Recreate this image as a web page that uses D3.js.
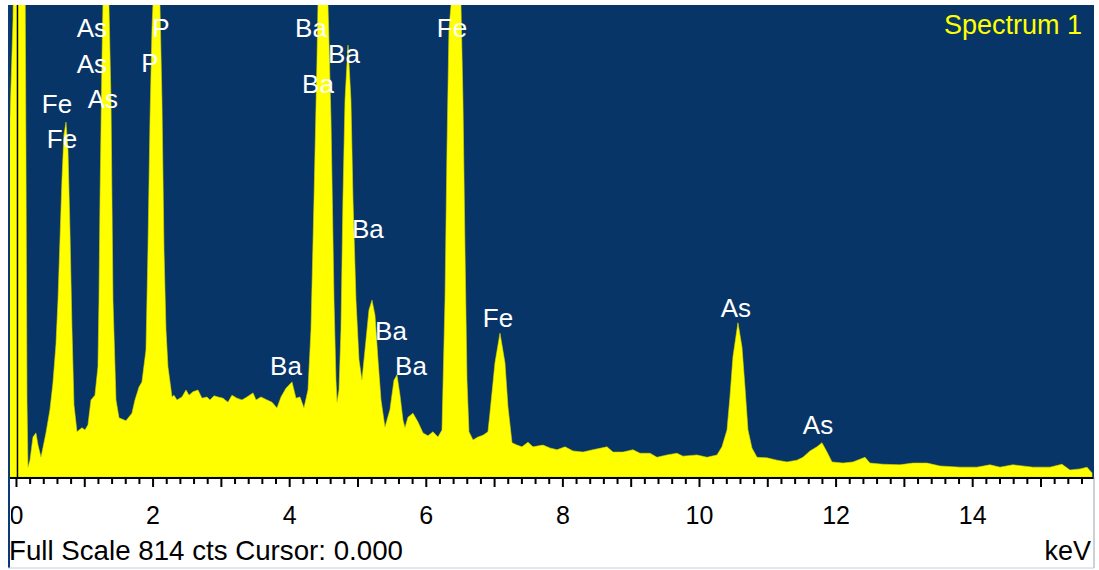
<!DOCTYPE html>
<html><head><meta charset="utf-8">
<script src="https://cdn.jsdelivr.net/npm/d3@7"></script>
<style>body{margin:0;background:#fff}svg{display:block}</style>
</head><body><svg id="c" width="1099" height="570"></svg>
<script>
// ---- data (keV, counts) ----
const energies = [-0.124,-0.095,-0.051,-0.037,0.124,0.139,0.154,0.168,0.198,0.242,0.285,0.315,0.359,0.432,0.490,0.534,0.578,0.608,0.637,0.666,0.695,0.725,0.754,0.783,0.813,0.842,0.886,0.959,1.003,1.047,1.091,1.149,1.193,1.208,1.223,1.252,1.266,1.310,1.354,1.384,1.413,1.457,1.501,1.603,1.691,1.735,1.794,1.837,1.896,1.925,1.955,1.984,1.998,2.050,2.101,2.130,2.160,2.189,2.218,2.277,2.306,2.350,2.423,2.482,2.526,2.584,2.657,2.716,2.789,2.833,2.892,2.950,3.023,3.097,3.155,3.228,3.302,3.375,3.463,3.507,3.580,3.668,3.741,3.814,3.873,3.946,4.034,4.092,4.151,4.209,4.268,4.312,4.356,4.400,4.414,4.487,4.561,4.605,4.649,4.678,4.693,4.722,4.751,4.780,4.810,4.854,4.897,4.927,4.971,5.015,5.058,5.117,5.161,5.205,5.249,5.293,5.337,5.395,5.468,5.527,5.571,5.615,5.659,5.688,5.732,5.805,5.878,5.952,6.025,6.098,6.171,6.230,6.274,6.303,6.332,6.362,6.435,6.508,6.537,6.567,6.596,6.625,6.684,6.757,6.830,6.903,6.932,7.006,7.079,7.152,7.196,7.255,7.328,7.401,7.489,7.562,7.709,7.811,7.914,8.031,8.148,8.294,8.441,8.646,8.733,8.880,9.026,9.129,9.275,9.378,9.524,9.670,9.758,9.963,10.110,10.256,10.329,10.403,10.446,10.490,10.563,10.622,10.666,10.710,10.768,10.842,10.988,11.135,11.281,11.427,11.515,11.618,11.720,11.793,11.867,11.940,12.101,12.247,12.423,12.496,12.686,12.935,13.126,13.331,13.521,13.814,14.063,14.253,14.400,14.590,14.883,15.132,15.307,15.424,15.571,15.674,15.747];
const counts = [391,616,788,926,926,564,133,17,29,69,76,55,34,76,116,162,228,305,409,512,590,612,564,426,254,124,78,85,81,90,133,141,190,305,478,719,814,1081,814,650,305,133,102,97,110,133,155,164,219,391,616,771,814,1254,814,650,391,254,190,138,141,133,138,150,141,147,150,136,138,133,140,138,136,129,141,136,133,138,145,133,138,133,129,119,138,153,164,136,138,119,150,254,478,719,814,1081,814,616,305,167,129,150,254,478,650,745,650,478,305,202,167,236,288,305,279,202,133,86,116,167,176,141,98,85,103,110,95,76,71,78,69,81,305,564,771,814,1168,814,650,391,167,78,64,69,72,78,110,197,248,197,121,59,55,52,60,52,55,50,47,52,45,43,47,52,43,43,47,41,41,34,38,41,36,38,34,38,52,81,138,207,266,224,155,81,50,34,33,29,26,29,34,45,52,59,43,26,24,26,34,24,22,21,24,24,19,17,17,21,17,21,17,17,22,12,14,17,7];
const fullScale = 814;
const cursorKeV = 0;
const tickLabels = ["0","2","4","6","8","10","12","14"];
const peakLabels =      ["As","P","As","P","Fe","As","Fe","Ba","Ba","Ba","Fe","Ba","Ba","Ba","Ba","Fe","As","As"];
const peakLabelKeV =    [1.105,2.116,1.105,1.955,0.593,1.266,0.666,4.312,4.795,4.414,6.376,5.146,5.483,3.946,5.776,7.050,10.534,11.735];
const peakLabelCounts = [759,759,697,698,628,636,567,759,714,662,759,412,236,176,176,259,276,74];
const spectrumName = "Spectrum 1";
const statusText = "Full Scale " + fullScale + " cts Cursor: " + cursorKeV.toFixed(3);
const unitText = "keV";

// ---- layout ----
const svg = d3.select("#c");
const L = 8, R = 1094, T = 5, B = 477;
const x = d3.scaleLinear().domain([-0.124, 15.776]).range([L, R]);
const y = d3.scaleLinear().domain([0, fullScale]).range([B, T]);
const FONT = "'Liberation Sans', Arial, sans-serif";

const defs = svg.append("defs");
defs.append("clipPath").attr("id","plotclip").append("rect")
  .attr("x",L).attr("y",T).attr("width",R-L).attr("height",B-T);
defs.append("clipPath").attr("id","axclip").append("rect")
  .attr("x",11).attr("y",B).attr("width",R-11).attr("height",570-B);

svg.append("rect").attr("x",L).attr("y",T).attr("width",R-L).attr("height",B-T).attr("fill","#083567");

const data = energies.map((e,i)=>({e, c: counts[i]}));
const area = d3.area().x(d=>x(d.e)).y0(B).y1(d=>y(d.c));
svg.append("path").datum(data).attr("clip-path","url(#plotclip)")
  .attr("d", area).attr("fill","#ffff00").attr("stroke","#d8d800").attr("stroke-width",0.6);

// cursor
svg.append("line").attr("x1",x(cursorKeV)+1).attr("x2",x(cursorKeV)+1).attr("y1",T).attr("y2",B)
  .attr("stroke","#000").attr("stroke-width",1.5);

// peak labels
svg.append("g").selectAll("text").data(peakLabels).join("text")
  .attr("x",(d,i)=>x(peakLabelKeV[i])).attr("y",(d,i)=>y(peakLabelCounts[i]))
  .attr("text-anchor","middle").attr("fill","#ffffff")
  .attr("font-family",FONT).attr("font-size",26).text(d=>d);

svg.append("text").attr("x",1082).attr("y",34).attr("text-anchor","end")
  .attr("fill","#ffff00").attr("font-family",FONT).attr("font-size",27).text(spectrumName);

// axis
const ax = svg.append("g").attr("clip-path","url(#axclip)");
const minor = d3.range(0, 15.7, 0.2);
ax.selectAll("line.t").data(minor).join("line")
  .attr("x1",d=>x(d)).attr("x2",d=>x(d)).attr("y1",B)
  .attr("y2",d=>Math.abs(d-Math.round(d))<1e-6 ? B+10 : B+7)
  .attr("stroke","#000").attr("stroke-width",2);
ax.selectAll("text").data(tickLabels).join("text")
  .attr("x",d=>x(+d)).attr("y",524).attr("text-anchor","middle")
  .attr("font-family",FONT).attr("font-size",25).attr("fill","#000").text(d=>d);
svg.append("line").attr("x1",L).attr("x2",R).attr("y1",B+1).attr("y2",B+1)
  .attr("stroke","#000").attr("stroke-width",2);

// frame
svg.append("line").attr("x1",L+1).attr("x2",L+1).attr("y1",T).attr("y2",568)
  .attr("stroke","#0a3a78").attr("stroke-width",2);
svg.append("line").attr("x1",R).attr("x2",R).attr("y1",B).attr("y2",568)
  .attr("stroke","#9aa4b0").attr("stroke-width",1);
svg.append("line").attr("x1",L).attr("x2",R).attr("y1",568).attr("y2",568)
  .attr("stroke","#c8d0dc").attr("stroke-width",1);

svg.append("text").attr("x",9).attr("y",560).attr("font-family",FONT).attr("font-size",27.7)
  .attr("fill","#000").text(statusText);
svg.append("text").attr("x",1091).attr("y",560).attr("text-anchor","end").attr("font-family",FONT)
  .attr("font-size",27).attr("fill","#000").text(unitText);
</script></body></html>
